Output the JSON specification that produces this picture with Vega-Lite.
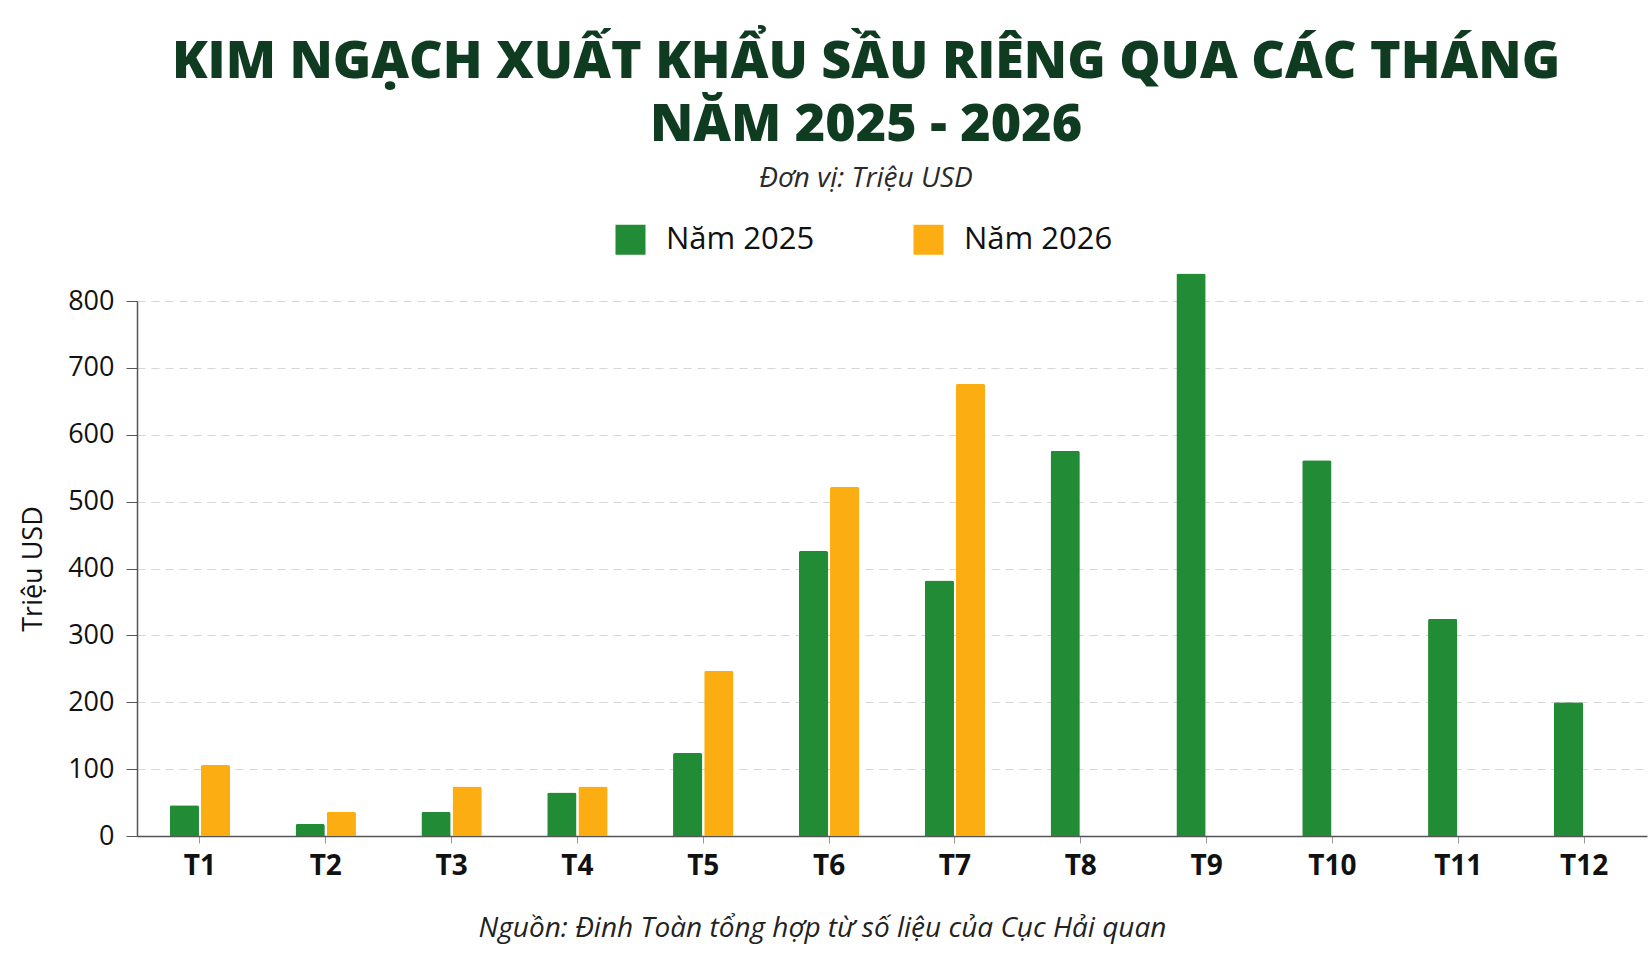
{
  "$schema": "https://vega.github.io/schema/vega-lite/v6.json",
  "width": 1510,
  "height": 535,
  "autosize": {"type": "none"},
  "padding": {"left": 137, "top": 301, "right": 4, "bottom": 117},
  "background": "#ffffff",
  "title": {
    "text": ["KIM NGẠCH XUẤT KHẨU SẦU RIÊNG QUA CÁC THÁNG", "NĂM 2025 - 2026"],
    "subtitle": "Đơn vị: Triệu USD",
    "anchor": "middle",
    "dx": -26,
    "font": "Open Sans",
    "fontSize": 52,
    "fontWeight": 800,
    "color": "#0f3b21",
    "lineHeight": 63,
    "subtitleFont": "Open Sans",
    "subtitleFontSize": 28,
    "subtitleFontStyle": "italic",
    "subtitleColor": "#2a2a2a",
    "subtitlePadding": 13,
    "offset": 30
  },
  "data": {
    "values": [
      {"month": "T1", "year": "Năm 2025", "value": 46},
      {"month": "T1", "year": "Năm 2026", "value": 106},
      {"month": "T2", "year": "Năm 2025", "value": 18},
      {"month": "T2", "year": "Năm 2026", "value": 36},
      {"month": "T3", "year": "Năm 2025", "value": 36},
      {"month": "T3", "year": "Năm 2026", "value": 74},
      {"month": "T4", "year": "Năm 2025", "value": 65},
      {"month": "T4", "year": "Năm 2026", "value": 74},
      {"month": "T5", "year": "Năm 2025", "value": 124},
      {"month": "T5", "year": "Năm 2026", "value": 247},
      {"month": "T6", "year": "Năm 2025", "value": 426},
      {"month": "T6", "year": "Năm 2026", "value": 522},
      {"month": "T7", "year": "Năm 2025", "value": 382},
      {"month": "T7", "year": "Năm 2026", "value": 676},
      {"month": "T8", "year": "Năm 2025", "value": 576},
      {"month": "T9", "year": "Năm 2025", "value": 841},
      {"month": "T10", "year": "Năm 2025", "value": 562},
      {"month": "T11", "year": "Năm 2025", "value": 325},
      {"month": "T12", "year": "Năm 2025", "value": 200}
    ]
  },
  "mark": {"type": "bar", "cornerRadiusTopLeft": 2, "cornerRadiusTopRight": 2},
  "encoding": {
    "x": {
      "field": "month",
      "type": "nominal",
      "sort": ["T1", "T2", "T3", "T4", "T5", "T6", "T7", "T8", "T9", "T10", "T11", "T12"],
      "scale": {"paddingInner": 0.52, "paddingOuter": 0.26},
      "axis": {
        "title": "Nguồn: Đinh Toàn tổng hợp từ số liệu của Cục Hải quan",
        "titleFont": "Open Sans",
        "titleFontSize": 28,
        "titleFontStyle": "italic",
        "titleFontWeight": "normal",
        "titleColor": "#222222",
        "titleX": 685,
        "titleAlign": "center",
        "titlePadding": 34,
        "labelFont": "Open Sans",
        "labelFontSize": 28,
        "labelFontWeight": "bold",
        "labelColor": "#111111",
        "labelAngle": 0,
        "labelPadding": 9,
        "tickSize": 7,
        "tickColor": "#999999",
        "domainColor": "#555555",
        "domainWidth": 1.5,
        "grid": false
      }
    },
    "xOffset": {
      "field": "year",
      "type": "nominal",
      "scale": {"paddingInner": 0.06}
    },
    "y": {
      "field": "value",
      "type": "quantitative",
      "scale": {"domain": [0, 800], "nice": false},
      "axis": {
        "values": [0, 100, 200, 300, 400, 500, 600, 700, 800],
        "title": "Triệu USD",
        "titleFont": "Open Sans",
        "titleFontSize": 27,
        "titleFontWeight": "normal",
        "titleColor": "#111111",
        "titlePadding": 20,
        "labelFont": "Open Sans",
        "labelFontSize": 27,
        "labelColor": "#111111",
        "labelPadding": 12,
        "tickSize": 11,
        "tickColor": "#555555",
        "domainColor": "#555555",
        "domainWidth": 1.5,
        "gridColor": "#d6d6d6",
        "gridDash": [8, 6],
        "gridWidth": 1.2
      }
    },
    "color": {
      "field": "year",
      "type": "nominal",
      "scale": {"domain": ["Năm 2025", "Năm 2026"], "range": ["#228b35", "#fcad12"]},
      "legend": {
        "title": null,
        "orient": "none",
        "direction": "horizontal",
        "legendX": 478,
        "legendY": -77,
        "symbolType": "square",
        "symbolSize": 900,
        "symbolStrokeWidth": 0,
        "symbolOpacity": 1,
        "labelFont": "Open Sans",
        "labelFontSize": 31,
        "labelColor": "#111111",
        "labelOffset": 20,
        "columnPadding": 98
      }
    }
  },
  "config": {
    "view": {"stroke": null}
  }
}
